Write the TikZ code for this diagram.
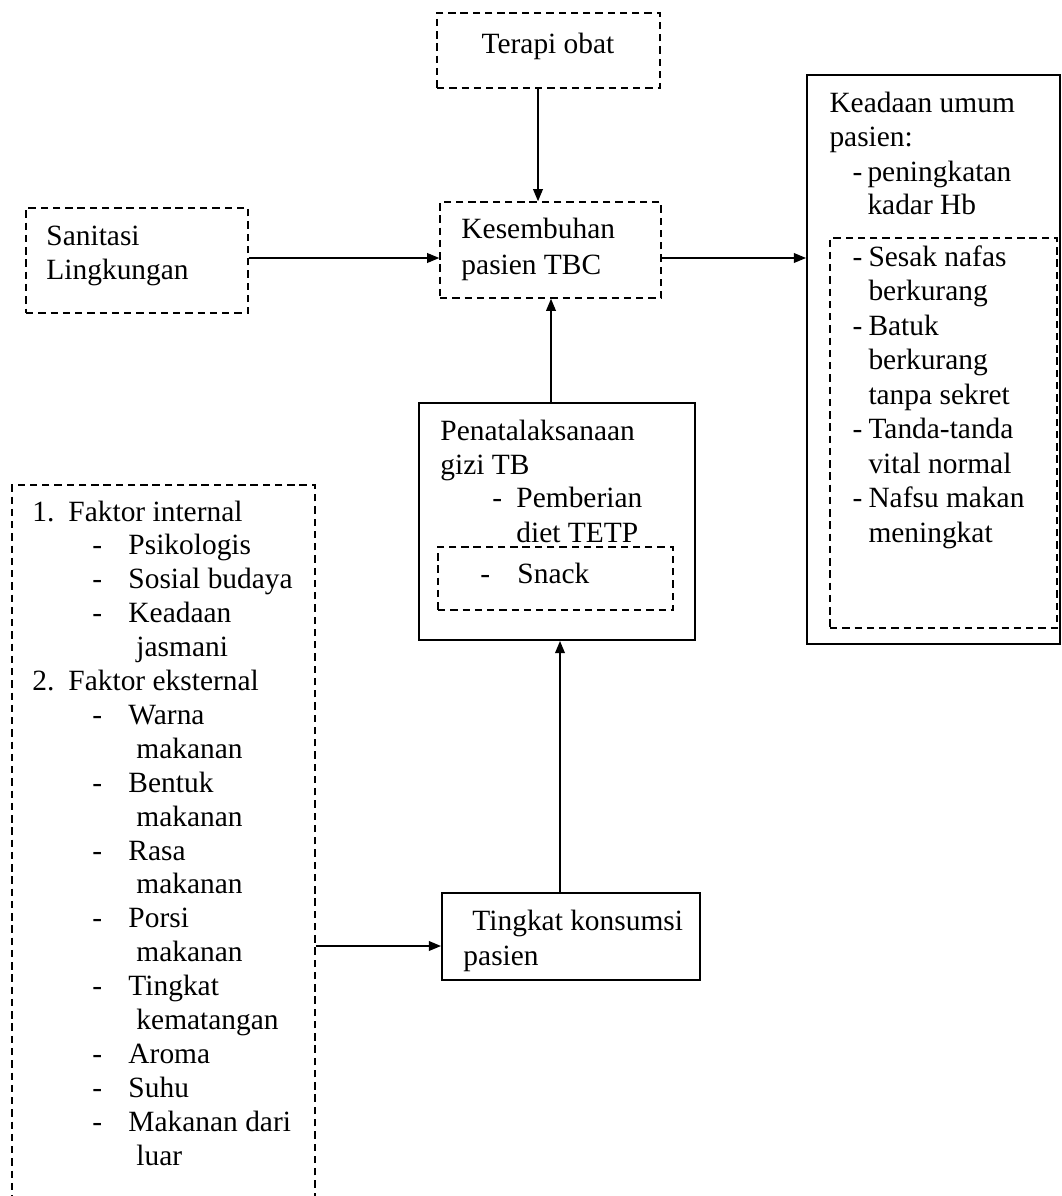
\documentclass[tikz,border=0pt]{standalone}
\usepackage{fontspec}
\setmainfont{Liberation Serif}
\usetikzlibrary{arrows.meta,fit}
\begin{document}
\begin{tikzpicture}[x=0.408pt,y=-0.408pt,
  solidbox/.style={draw, line width=0.8pt, inner sep=0pt},
  dashbox/.style={draw, line width=0.6pt, dash pattern=on 3pt off 2pt, inner sep=0pt},
  txt/.style={anchor=base west, inner sep=0pt, font=\fontsize{12}{14}\selectfont},
  arr/.style={-{Triangle[length=5pt,width=4pt]}, line width=0.6pt}]
\useasboundingbox (0,0) rectangle (1061,1196);

% boxes
\node[dashbox, fit={(437,13) (660,88)}] (terapi) {};
\node[dashbox, fit={(440,202) (661,298)}] (kesembuhan) {};
\node[dashbox, fit={(26,208) (248,313)}] (sanitasi) {};
\node[solidbox, fit={(807,75) (1060,644)}] (keadaan) {};
\node[dashbox, fit={(830,238) (1057,628)}] (gejala) {};
\node[solidbox, fit={(419,403) (695,640)}] (gizi) {};
\node[dashbox, fit={(438,547) (673,610)}] (snack) {};
\node[solidbox, fit={(442,893) (700,980)}] (konsumsi) {};
\node[dashbox, fit={(12,485) (315,1240)}] (faktor) {};

% connectors
\coordinate (a1) at (538,0);
\coordinate (a2) at (0,258);
\coordinate (a3) at (551,0);
\coordinate (a4) at (560,0);
\coordinate (a5) at (0,946);
\draw[arr] (terapi.south -| a1) -- (kesembuhan.north -| a1);
\draw[arr] (sanitasi.east |- a2) -- (kesembuhan.west |- a2);
\draw[arr] (kesembuhan.east |- a2) -- (keadaan.west |- a2);
\draw[arr] (gizi.north -| a3) -- (kesembuhan.south -| a3);
\draw[arr] (konsumsi.north -| a4) -- (gizi.south -| a4);
\draw[arr] (faktor.east |- a5) -- (konsumsi.west |- a5);

% texts
\node[txt, anchor=base] (tTerapi) at (548,54) {Terapi obat};
\node[txt] (tKes1) at (461,238) {Kesembuhan};
\node[txt] (tKes2) at (461,274) {pasien TBC};
\node[txt] (tSan1) at (46,245) {Sanitasi};
\node[txt] (tSan2) at (46,279) {Lingkungan};

\node[txt] (tKe1) at (829,113) {Keadaan umum};
\node[txt] (tKe2) at (829,147) {pasien:};
\node[txt] (tKe3d) at (852,181) {-};
\node[txt] (tKe3) at (867,181) {peningkatan};
\node[txt] (tKe4) at (867,215) {kadar Hb};
\node[txt] (tG1d) at (852,266) {-};
\node[txt] (tG1) at (868,266) {Sesak nafas};
\node[txt] (tG2) at (868,300.5) {berkurang};
\node[txt] (tG3d) at (852,335) {-};
\node[txt] (tG3) at (868,335) {Batuk};
\node[txt] (tG4) at (868,369.5) {berkurang};
\node[txt] (tG5) at (868,404) {tanpa sekret};
\node[txt] (tG6d) at (852,438.5) {-};
\node[txt] (tG6) at (868,438.5) {Tanda-tanda};
\node[txt] (tG7) at (868,473) {vital normal};
\node[txt] (tG8d) at (852,507.5) {-};
\node[txt] (tG8) at (868,507.5) {Nafsu makan};
\node[txt] (tG9) at (868,542) {meningkat};

\node[txt] (tP1) at (440,440) {Penatalaksanaan};
\node[txt] (tP2) at (440,474) {gizi TB};
\node[txt] (tP3d) at (492,507) {-};
\node[txt] (tP3) at (516,507) {Pemberian};
\node[txt] (tP4) at (516,542) {diet TETP};
\node[txt] (tS1d) at (480,583) {-};
\node[txt] (tS1) at (517,583) {Snack};

\node[txt] (tT1) at (472,930) {Tingkat konsumsi};
\node[txt] (tT2) at (463,965) {pasien};

\node[txt] (f0n) at (32,521) {1.};
\node[txt] (f0) at (68,521) {Faktor internal};
\node[txt] (f1d) at (92,554.9) {-};
\node[txt] (f1) at (128,554.9) {Psikologis};
\node[txt] (f2d) at (92,588.8) {-};
\node[txt] (f2) at (128,588.8) {Sosial budaya};
\node[txt] (f3d) at (92,622.7) {-};
\node[txt] (f3) at (128,622.7) {Keadaan};
\node[txt] (f4) at (136,656.6) {jasmani};
\node[txt] (f5n) at (32,690.5) {2.};
\node[txt] (f5) at (68,690.5) {Faktor eksternal};
\node[txt] (f6d) at (92,724.4) {-};
\node[txt] (f6) at (128,724.4) {Warna};
\node[txt] (f7) at (136,758.3) {makanan};
\node[txt] (f8d) at (92,792.2) {-};
\node[txt] (f8) at (128,792.2) {Bentuk};
\node[txt] (f9) at (136,826.1) {makanan};
\node[txt] (f10d) at (92,860) {-};
\node[txt] (f10) at (128,860) {Rasa};
\node[txt] (f11) at (136,893.9) {makanan};
\node[txt] (f12d) at (92,927.8) {-};
\node[txt] (f12) at (128,927.8) {Porsi};
\node[txt] (f13) at (136,961.7) {makanan};
\node[txt] (f14d) at (92,995.6) {-};
\node[txt] (f14) at (128,995.6) {Tingkat};
\node[txt] (f15) at (136,1029.5) {kematangan};
\node[txt] (f16d) at (92,1063.4) {-};
\node[txt] (f16) at (128,1063.4) {Aroma};
\node[txt] (f17d) at (92,1097.3) {-};
\node[txt] (f17) at (128,1097.3) {Suhu};
\node[txt] (f18d) at (92,1131.2) {-};
\node[txt] (f18) at (128,1131.2) {Makanan dari};
\node[txt] (f19) at (136,1165.1) {luar};
\end{tikzpicture}
\end{document}
